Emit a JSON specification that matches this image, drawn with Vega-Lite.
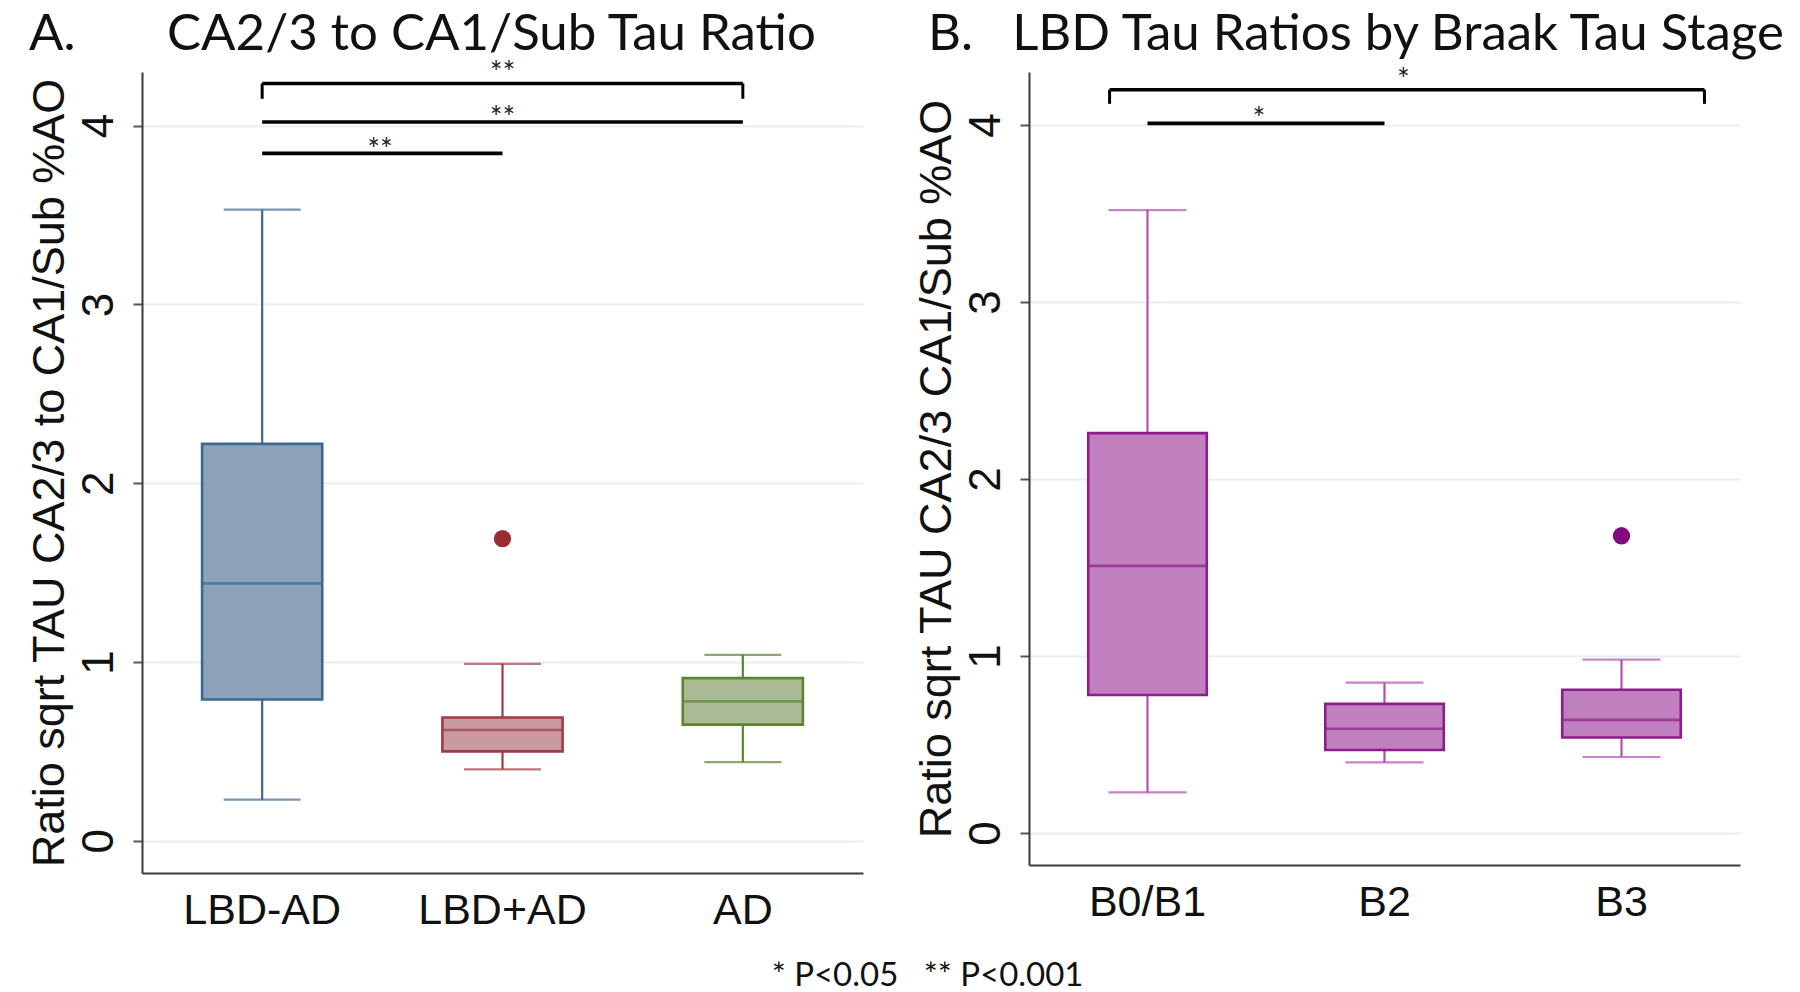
{
  "$schema": "https://vega.github.io/schema/vega-lite/v6.json",
  "background": "white",
  "padding": {"left": 27, "top": 8, "right": 5, "bottom": 0},
  "spacing": 51,
  "title": {"text": "* P<0.05\u00a0\u00a0\u00a0** P<0.001", "orient": "bottom", "anchor": "middle", "font": "Lato", "fontSize": 33, "fontWeight": "normal", "color": "#111", "offset": 28, "dx": 20},
  "datasets": {
    "boxA": [
      {"group": "LBD-AD", "low": 0.23, "q1": 0.79, "median": 1.44, "q3": 2.22, "high": 3.53},
      {"group": "LBD+AD", "low": 0.40, "q1": 0.50, "median": 0.62, "q3": 0.69, "high": 0.99},
      {"group": "AD", "low": 0.44, "q1": 0.65, "median": 0.78, "q3": 0.91, "high": 1.04}
    ],
    "outA": [{"group": "LBD+AD", "value": 1.69}],
    "boxB": [
      {"group": "B0/B1", "low": 0.23, "q1": 0.78, "median": 1.51, "q3": 2.26, "high": 3.52},
      {"group": "B2", "low": 0.40, "q1": 0.47, "median": 0.59, "q3": 0.73, "high": 0.85},
      {"group": "B3", "low": 0.43, "q1": 0.54, "median": 0.64, "q3": 0.81, "high": 0.98}
    ],
    "outB": [{"group": "B3", "value": 1.68}],
    "sigLinesA": [
      {"from": "LBD-AD", "to": "AD", "y": 4.236},
      {"from": "LBD-AD", "to": "AD", "y": 4.02},
      {"from": "LBD-AD", "to": "LBD+AD", "y": 3.845}
    ],
    "bracketA": [
      {"at": "LBD-AD", "y": 4.236, "yEnd": 4.15},
      {"at": "AD", "y": 4.236, "yEnd": 4.15}
    ],
    "starsAcenter": [
      {"at": "LBD+AD", "label": "**", "y": 4.29},
      {"at": "LBD+AD", "label": "**", "y": 4.035}
    ],
    "starsAedge": [
      {"at": "LBD-AD", "label": "**", "y": 3.86}
    ],
    "bracketB": [{"from": "B0/B1", "to": "B3", "y": 4.20, "yEnd": 4.12}],
    "lineB": [{"from": "B0/B1", "to": "B2", "y": 4.01}],
    "starB1": [{"at": "B2", "label": "*", "y": 4.25}],
    "starB2": [{"at": "B0/B1", "label": "*", "y": 4.03}]
  },
  "config": {
    "view": {"stroke": null},
    "axis": {"domainColor": "#3a3a3a", "domainWidth": 2, "gridColor": "#e6eff1", "gridWidth": 2, "labelFont": "Liberation Sans", "titleFont": "Liberation Sans", "labelColor": "#111", "titleColor": "#111", "titleFontWeight": "normal"},
    "title": {"font": "Lato", "fontWeight": "normal", "color": "#111"}
  },
  "hconcat": [
    {
      "width": 721,
      "height": 801,
      "title": {"text": "A.\u00a0\u00a0\u00a0\u00a0\u00a0\u00a0\u00a0CA2/3 to CA1/Sub Tau Ratio", "anchor": "start", "frame": "bounds", "fontSize": 51, "offset": -2, "dx": 2},
      "layer": [
        {
          "data": {"name": "boxA"},
          "mark": {"type": "rule", "strokeWidth": 2.2},
          "encoding": {
            "x": {"field": "group", "type": "nominal", "sort": null, "scale": {"domain": ["LBD-AD", "LBD+AD", "AD"], "paddingInner": 0, "paddingOuter": 0}, "axis": {"title": null, "ticks": false, "grid": false, "labelAngle": 0, "labelFontSize": 43, "labelPadding": 16}},
            "y": {"field": "low", "type": "quantitative", "scale": {"domain": [-0.18, 4.3], "nice": false, "zero": false}, "axis": {"values": [0, 1, 2, 3, 4], "format": "d", "title": "Ratio sqrt TAU CA2/3 to CA1/Sub %AO", "titleFontSize": 45, "titlePadding": 5, "labelAngle": 270, "labelFontSize": 44, "labelPadding": 12, "tickSize": 9, "tickColor": "#555", "tickWidth": 2, "grid": true}},
            "y2": {"field": "q1"},
            "stroke": {"field": "group", "type": "nominal", "scale": {"domain": ["LBD-AD", "LBD+AD", "AD"], "range": ["#3e6891", "#a23a44", "#5b8533"]}, "legend": null}
          }
        },
        {
          "data": {"name": "boxA"},
          "mark": {"type": "rule", "strokeWidth": 2.2},
          "encoding": {
            "x": {"field": "group", "type": "nominal"},
            "y": {"field": "q3", "type": "quantitative"},
            "y2": {"field": "high"},
            "stroke": {"field": "group", "type": "nominal", "legend": null}
          }
        },
        {
          "data": {"name": "boxA"},
          "mark": {"type": "bar", "width": {"band": 0.5}, "strokeWidth": 2.6},
          "encoding": {
            "x": {"field": "group", "type": "nominal"},
            "y": {"field": "q1", "type": "quantitative"},
            "y2": {"field": "q3"},
            "fill": {"field": "group", "type": "nominal", "scale": {"domain": ["LBD-AD", "LBD+AD", "AD"], "range": ["#8ca3b9", "#c99a9f", "#a9ba95"]}, "legend": null},
            "stroke": {"field": "group", "type": "nominal", "legend": null}
          }
        },
        {
          "data": {"name": "boxA"},
          "mark": {"type": "tick", "size": 119, "thickness": 2.6},
          "encoding": {
            "x": {"field": "group", "type": "nominal"},
            "y": {"field": "median", "type": "quantitative"},
            "color": {"field": "group", "type": "nominal", "scale": {"domain": ["LBD-AD", "LBD+AD", "AD"], "range": ["#3e6891", "#a23a44", "#5b8533"]}, "legend": null}
          }
        },
        {
          "data": {"name": "boxA"},
          "mark": {"type": "tick", "size": 77, "thickness": 2.2},
          "encoding": {
            "x": {"field": "group", "type": "nominal"},
            "y": {"field": "low", "type": "quantitative"},
            "color": {"field": "group", "type": "nominal", "legend": null}
          }
        },
        {
          "data": {"name": "boxA"},
          "mark": {"type": "tick", "size": 77, "thickness": 2.2},
          "encoding": {
            "x": {"field": "group", "type": "nominal"},
            "y": {"field": "high", "type": "quantitative"},
            "color": {"field": "group", "type": "nominal", "legend": null}
          }
        },
        {
          "data": {"name": "outA"},
          "mark": {"type": "point", "filled": true, "opacity": 1, "size": 300, "color": "#9c2b34"},
          "encoding": {
            "x": {"field": "group", "type": "nominal"},
            "y": {"field": "value", "type": "quantitative"}
          }
        },
        {
          "data": {"name": "sigLinesA"},
          "mark": {"type": "rule", "strokeWidth": 3.6, "color": "#000"},
          "encoding": {
            "x": {"field": "from", "type": "nominal"},
            "x2": {"field": "to"},
            "y": {"field": "y", "type": "quantitative"}
          }
        },
        {
          "data": {"name": "bracketA"},
          "mark": {"type": "rule", "strokeWidth": 3, "color": "#000"},
          "encoding": {
            "x": {"field": "at", "type": "nominal"},
            "y": {"field": "y", "type": "quantitative"},
            "y2": {"field": "yEnd"}
          }
        },
        {
          "data": {"name": "starsAcenter"},
          "mark": {"type": "text", "font": "Lato", "fontSize": 30, "color": "#222", "baseline": "middle"},
          "encoding": {
            "x": {"field": "at", "type": "nominal"},
            "y": {"field": "y", "type": "quantitative"},
            "text": {"field": "label"}
          }
        },
        {
          "data": {"name": "starsAedge"},
          "mark": {"type": "text", "font": "Lato", "fontSize": 30, "color": "#222", "baseline": "middle"},
          "encoding": {
            "x": {"field": "at", "type": "nominal", "bandPosition": 0.99},
            "y": {"field": "y", "type": "quantitative"},
            "text": {"field": "label"}
          }
        }
      ]
    },
    {
      "width": 711,
      "height": 793,
      "title": {"text": "B.\u00a0\u00a0\u00a0LBD Tau Ratios by Braak Tau Stage", "anchor": "start", "frame": "bounds", "fontSize": 51, "offset": 5, "dx": 14},
      "layer": [
        {
          "data": {"name": "boxB"},
          "mark": {"type": "rule", "strokeWidth": 2.2, "color": "#b24fb0"},
          "encoding": {
            "x": {"field": "group", "type": "nominal", "sort": null, "scale": {"domain": ["B0/B1", "B2", "B3"], "paddingInner": 0, "paddingOuter": 0}, "axis": {"title": null, "ticks": false, "grid": false, "labelAngle": 0, "labelFontSize": 43, "labelPadding": 16}},
            "y": {"field": "low", "type": "quantitative", "scale": {"domain": [-0.18, 4.3], "nice": false, "zero": false}, "axis": {"values": [0, 1, 2, 3, 4], "format": "d", "title": "Ratio sqrt TAU CA2/3 CA1/Sub %AO", "titleFontSize": 45, "titlePadding": 5, "labelAngle": 270, "labelFontSize": 44, "labelPadding": 12, "tickSize": 9, "tickColor": "#555", "tickWidth": 2, "grid": true}},
            "y2": {"field": "q1"}
          }
        },
        {
          "data": {"name": "boxB"},
          "mark": {"type": "rule", "strokeWidth": 2.2, "color": "#b24fb0"},
          "encoding": {
            "x": {"field": "group", "type": "nominal"},
            "y": {"field": "q3", "type": "quantitative"},
            "y2": {"field": "high"}
          }
        },
        {
          "data": {"name": "boxB"},
          "mark": {"type": "bar", "width": {"band": 0.5}, "fill": "#c07fbd", "stroke": "#8e1c8c", "strokeWidth": 2.6},
          "encoding": {
            "x": {"field": "group", "type": "nominal"},
            "y": {"field": "q1", "type": "quantitative"},
            "y2": {"field": "q3"}
          }
        },
        {
          "data": {"name": "boxB"},
          "mark": {"type": "tick", "size": 117, "thickness": 2.6, "color": "#8e1c8c"},
          "encoding": {
            "x": {"field": "group", "type": "nominal"},
            "y": {"field": "median", "type": "quantitative"}
          }
        },
        {
          "data": {"name": "boxB"},
          "mark": {"type": "tick", "size": 78, "thickness": 2.2, "color": "#b24fb0"},
          "encoding": {
            "x": {"field": "group", "type": "nominal"},
            "y": {"field": "low", "type": "quantitative"}
          }
        },
        {
          "data": {"name": "boxB"},
          "mark": {"type": "tick", "size": 78, "thickness": 2.2, "color": "#b24fb0"},
          "encoding": {
            "x": {"field": "group", "type": "nominal"},
            "y": {"field": "high", "type": "quantitative"}
          }
        },
        {
          "data": {"name": "outB"},
          "mark": {"type": "point", "filled": true, "opacity": 1, "size": 300, "color": "#820882"},
          "encoding": {
            "x": {"field": "group", "type": "nominal"},
            "y": {"field": "value", "type": "quantitative"}
          }
        },
        {
          "data": {"name": "bracketB"},
          "mark": {"type": "rule", "strokeWidth": 3.6, "color": "#000"},
          "encoding": {
            "x": {"field": "from", "type": "nominal", "bandPosition": 0.34},
            "x2": {"field": "to", "bandPosition": 0.85},
            "y": {"field": "y", "type": "quantitative"}
          }
        },
        {
          "data": {"name": "bracketB"},
          "mark": {"type": "rule", "strokeWidth": 3, "color": "#000"},
          "encoding": {
            "x": {"field": "from", "type": "nominal", "bandPosition": 0.34},
            "y": {"field": "y", "type": "quantitative"},
            "y2": {"field": "yEnd"}
          }
        },
        {
          "data": {"name": "bracketB"},
          "mark": {"type": "rule", "strokeWidth": 3, "color": "#000"},
          "encoding": {
            "x": {"field": "to", "type": "nominal", "bandPosition": 0.85},
            "y": {"field": "y", "type": "quantitative"},
            "y2": {"field": "yEnd"}
          }
        },
        {
          "data": {"name": "lineB"},
          "mark": {"type": "rule", "strokeWidth": 3.6, "color": "#000"},
          "encoding": {
            "x": {"field": "from", "type": "nominal"},
            "x2": {"field": "to"},
            "y": {"field": "y", "type": "quantitative"}
          }
        },
        {
          "data": {"name": "starB1"},
          "mark": {"type": "text", "font": "Lato", "fontSize": 30, "color": "#222", "baseline": "middle"},
          "encoding": {
            "x": {"field": "at", "type": "nominal", "bandPosition": 0.58},
            "y": {"field": "y", "type": "quantitative"},
            "text": {"field": "label"}
          }
        },
        {
          "data": {"name": "starB2"},
          "mark": {"type": "text", "font": "Lato", "fontSize": 30, "color": "#222", "baseline": "middle"},
          "encoding": {
            "x": {"field": "at", "type": "nominal", "bandPosition": 0.97},
            "y": {"field": "y", "type": "quantitative"},
            "text": {"field": "label"}
          }
        }
      ]
    }
  ]
}
